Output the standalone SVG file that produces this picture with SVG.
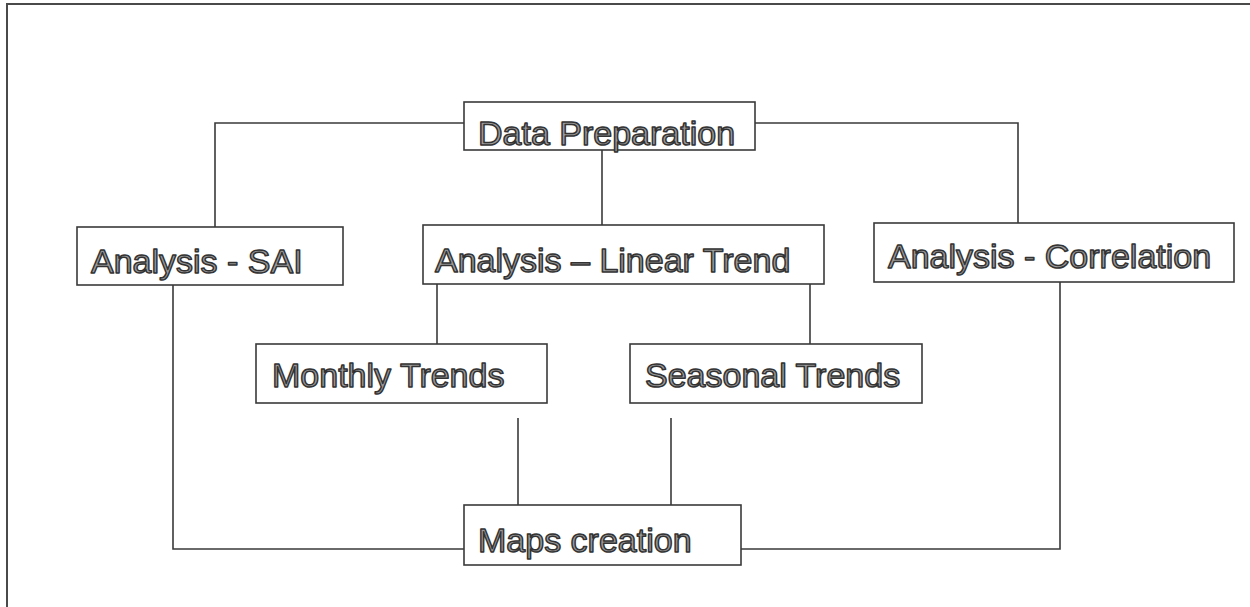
<svg xmlns="http://www.w3.org/2000/svg" width="1250" height="607" viewBox="0 0 1250 607">
  <style>
    .box { fill: #ffffff; stroke: #3a3a3a; stroke-width: 1.6; }
    .lbl { font-family: "Liberation Sans", Arial, sans-serif; font-size: 34px; fill: #9c9c9c; stroke: #333333; stroke-width: 1.5; stroke-linejoin: round; }
    .wire { fill: none; stroke: #3a3a3a; stroke-width: 1.6; }
    .frame { fill: none; stroke: #4a4a4a; stroke-width: 2; }
  </style>
  <rect width="1250" height="607" fill="#ffffff"/>
  <!-- outer frame (only top and left edges fall inside the page) -->
  <rect class="frame" x="7" y="4" width="1260" height="620"/>

  <g id="connectors">
    <polyline class="wire" points="464,123 215,123 215,227"/>
    <polyline class="wire" points="755,123 1018,123 1018,223"/>
    <line class="wire" x1="602" y1="150" x2="602" y2="225"/>
    <line class="wire" x1="437" y1="284" x2="437" y2="344"/>
    <line class="wire" x1="810" y1="284" x2="810" y2="344"/>
    <polyline class="wire" points="173,285 173,549 464,549"/>
    <polyline class="wire" points="1060,282 1060,549 741,549"/>
    <line class="wire" x1="518" y1="418" x2="518" y2="505"/>
    <line class="wire" x1="671" y1="418" x2="671" y2="505"/>
  </g>

  <g id="data-preparation">
    <rect class="box" x="464" y="102" width="291" height="48"/>
    <text class="lbl" x="478" y="145">Data Preparation</text>
  </g>
  <g id="analysis-sai">
    <rect class="box" x="77" y="227" width="266" height="58"/>
    <text class="lbl" x="91" y="273">Analysis - SAI</text>
  </g>
  <g id="analysis-linear-trend">
    <rect class="box" x="423" y="225" width="401" height="59"/>
    <text class="lbl" x="435" y="272">Analysis – Linear Trend</text>
  </g>
  <g id="analysis-correlation">
    <rect class="box" x="874" y="223" width="360" height="59"/>
    <text class="lbl" x="888" y="268">Analysis - Correlation</text>
  </g>
  <g id="monthly-trends">
    <rect class="box" x="256" y="344" width="291" height="59"/>
    <text class="lbl" x="272" y="387">Monthly Trends</text>
  </g>
  <g id="seasonal-trends">
    <rect class="box" x="630" y="344" width="292" height="59"/>
    <text class="lbl" x="645" y="387">Seasonal Trends</text>
  </g>
  <g id="maps-creation">
    <rect class="box" x="464" y="505" width="277" height="60"/>
    <text class="lbl" x="478" y="552">Maps creation</text>
  </g>
</svg>
